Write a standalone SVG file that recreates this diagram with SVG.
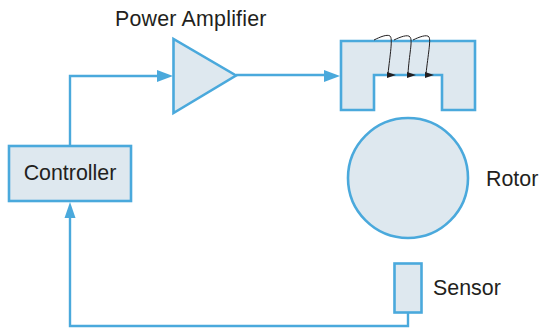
<svg xmlns="http://www.w3.org/2000/svg" width="539" height="331" viewBox="0 0 539 331">
<style>
.s{fill:#dee8ef;stroke:#4aa9dc;stroke-width:2.6;stroke-linejoin:miter}
.c{fill:none;stroke:#4aa9dc;stroke-width:2.4}
.w{fill:none;stroke:#231f20;stroke-width:1}
.a{fill:#4aa9dc}
.h{fill:#231f20}
text{font-family:"Liberation Sans",Arial,sans-serif;font-size:21.400px;fill:#231f20}
</style>
<g id="connectors">
<path class="c" d="M70 146V76H160"/>
<polygon class="a" points="173,76 157,70 157,82"/>
<path class="c" d="M236 75H327"/>
<polygon class="a" points="340,76 324,70 324,82"/>
<path class="c" d="M408 313V326H70V214"/>
<polygon class="a" points="70,202 64.500,218 75.500,218"/>
</g>
<g id="controller"><rect class="s" x="9" y="146" width="122" height="55"/><text x="70" y="180" text-anchor="middle">Controller</text></g>
<g id="amplifier"><polygon class="s" points="173.500,39 173.500,113 236,75.500"/><text x="115" y="26" letter-spacing="0.200">Power Amplifier</text></g>
<g id="stator"><path class="s" d="M341 41H475V110H442V75H374V110H341Z"/>
<path class="w" d="M374 40C380 37 387 34 390 36C393 38 390 55 388 74"/>
<path class="w" d="M394 40C400 37 408 34 410 37C413 40 409 55 408 74"/>
<path class="w" d="M413 40C419 37 427 34 429 37C431 40 428 55 426 74"/>
<polygon class="h" points="387,72 387,78 396,75"/>
<polygon class="h" points="407,72 407,78 416,75"/>
<polygon class="h" points="425,72 425,78 434,75"/>
</g>
<g id="rotor"><circle class="s" cx="408" cy="178" r="60"/><text x="486" y="186">Rotor</text></g>
<g id="sensor"><rect class="s" x="394.500" y="263.500" width="27" height="49"/><text x="433" y="295">Sensor</text></g>
</svg>
